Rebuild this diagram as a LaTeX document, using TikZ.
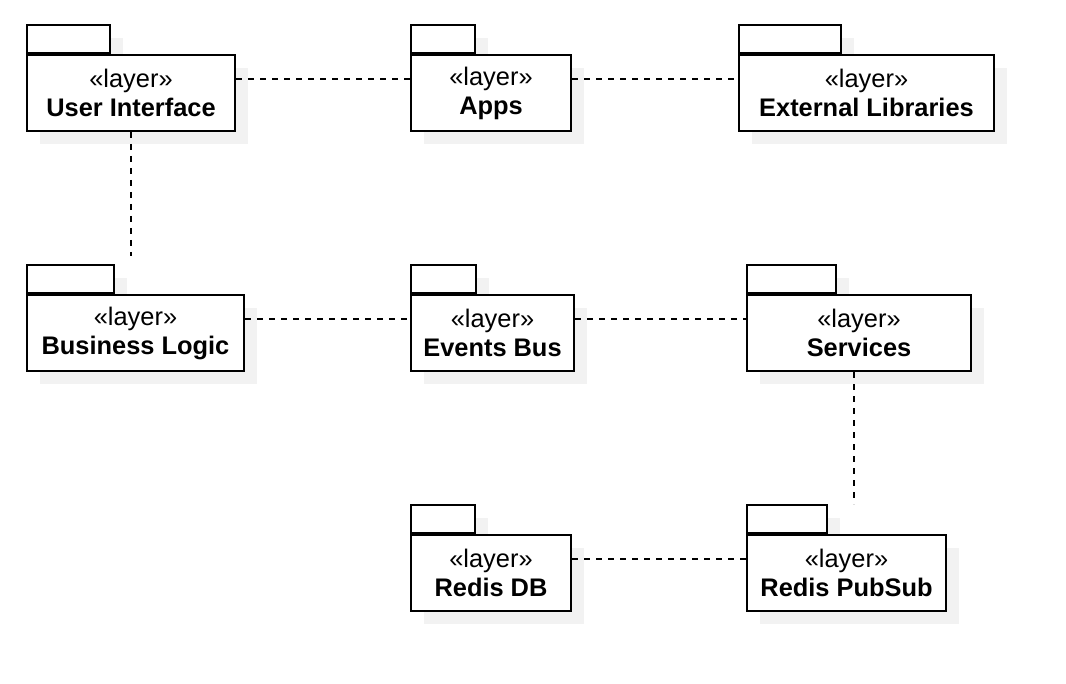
\documentclass[tikz,border=0pt]{standalone}
\usepackage{fontspec}
\setmainfont{Liberation Sans}
\usetikzlibrary{shadows}
\tikzset{
  pkgshadow/.style={drop shadow={shadow xshift=6.5pt,shadow yshift=-6.5pt,fill=black!5,opacity=1}},
  layerbox/.style={draw=black,line width=1pt,fill=white,anchor=north west,inner sep=0pt,
    minimum height=38pt,align=center,font=\fontsize{12.7}{14.5}\selectfont,pkgshadow},
  tabbox/.style={draw=black,line width=1pt,fill=white,anchor=south west,inner sep=0pt,
    minimum height=14pt,pkgshadow},
  dep/.style={line width=1pt,dash pattern=on 3pt off 3pt}
}
\newcommand{\stereo}{«layer»}

\begin{document}
\begin{tikzpicture}[x=0.5pt,y=-0.5pt]
  \useasboundingbox (0,0) rectangle (1066,684);
  % top row
  \node [tabbox,minimum width=41.5pt] (uitab) at (26,54) {};
  \node [layerbox,minimum width=104pt] (ui) at (26,54) {\stereo\\\textbf{User Interface}};
  \node [tabbox,minimum width=32pt] (appstab) at (410,54) {};
  \node [layerbox,minimum width=80pt] (apps) at (410,54) {\stereo\\\textbf{Apps}};
  \node [tabbox,minimum width=51pt] (extlibtab) at (738,54) {};
  \node [layerbox,minimum width=127.5pt] (extlib) at (738,54) {\stereo\\\textbf{External Libraries}};
  % middle row
  \node [tabbox,minimum width=43.5pt] (bltab) at (26,294) {};
  \node [layerbox,minimum width=108.5pt] (bl) at (26,294) {\stereo\\\textbf{Business Logic}};
  \node [tabbox,minimum width=32.5pt] (bustab) at (410,294) {};
  \node [layerbox,minimum width=81.5pt] (bus) at (410,294) {\stereo\\\textbf{Events Bus}};
  \node [tabbox,minimum width=44.5pt] (svtab) at (746,294) {};
  \node [layerbox,minimum width=112pt] (sv) at (746,294) {\stereo\\\textbf{Services}};
  % bottom row
  \node [tabbox,minimum width=32pt] (rdbtab) at (410,534) {};
  \node [layerbox,minimum width=80pt] (rdb) at (410,534) {\stereo\\\textbf{Redis DB}};
  \node [tabbox,minimum width=40pt] (pstab) at (746,534) {};
  \node [layerbox,minimum width=99.5pt] (ps) at (746,534) {\stereo\\\textbf{Redis PubSub}};
  % dependencies
  \draw [dep] ([yshift=7pt]ui.east) -- ([yshift=7pt]apps.west);
  \draw [dep] ([yshift=7pt]apps.east) -- ([yshift=7pt]extlib.west);
  \draw [dep,shorten >=4pt] (ui.south) -- (ui.south |- bltab.north);
  \draw [dep] ([yshift=7pt]bl.east) -- ([yshift=7pt]bus.west);
  \draw [dep] ([yshift=7pt]bus.east) -- ([yshift=7pt]sv.west);
  \draw [dep] ([xshift=-2.5pt]sv.south) -- ([xshift=-2.5pt]sv.south |- pstab.north);
  \draw [dep] ([yshift=7pt]rdb.east) -- ([yshift=7pt]ps.west);
\end{tikzpicture}
\end{document}
